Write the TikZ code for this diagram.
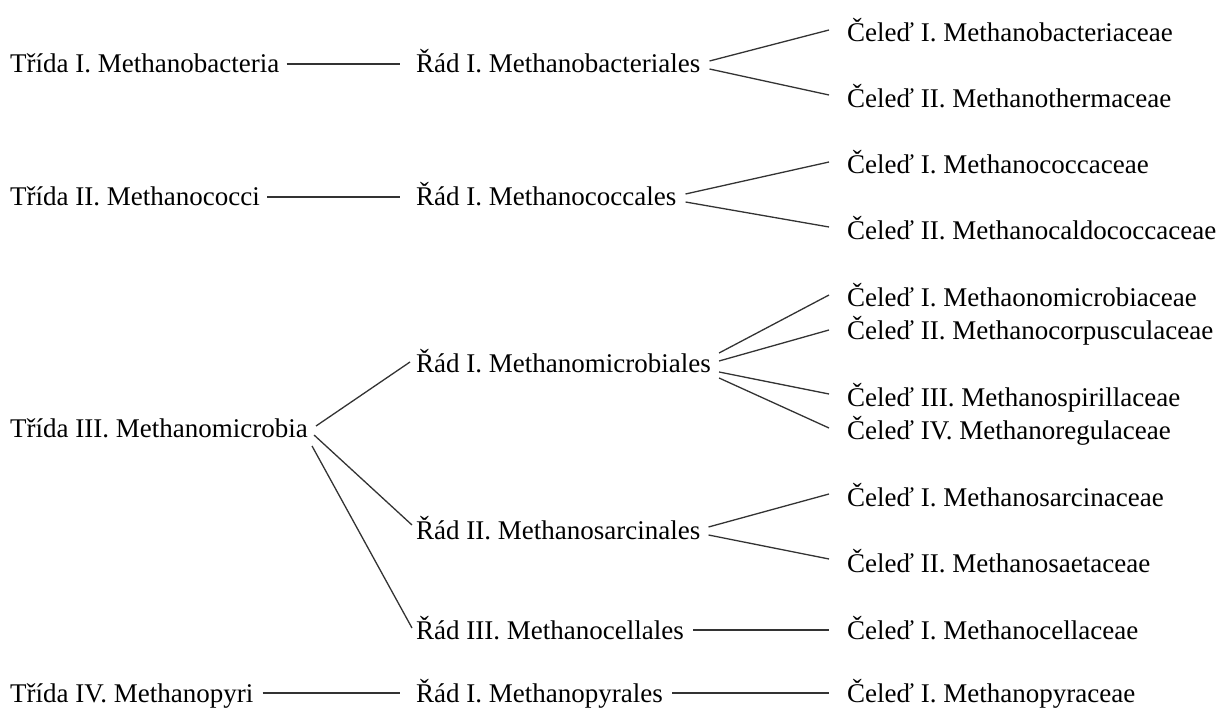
\documentclass[tikz,border=0pt]{standalone}
\usepackage{fontspec}
\setmainfont{Liberation Serif}
\begin{document}
\begin{tikzpicture}[x=1pt,y=-1pt,
  lbl/.style={anchor=west, inner sep=0pt, text height=18pt, text depth=0pt, font=\fontsize{27}{32}\selectfont},
  conn/.style={line width=1.3pt, black!80}]
\useasboundingbox (0,0) rectangle (1216,708);
% classes
\node[lbl] (t1) at (10,64) {Třída I. Methanobacteria};
\node[lbl] (t2) at (10,197) {Třída II. Methanococci};
\node[lbl] (t3) at (10,429) {Třída III. Methanomicrobia};
\node[lbl] (t4) at (10,693) {Třída IV. Methanopyri};
% orders
\node[lbl] (r1) at (416,64) {Řád I. Methanobacteriales};
\node[lbl] (r2) at (416,197) {Řád I. Methanococcales};
\node[lbl] (r3) at (416,364) {Řád I. Methanomicrobiales};
\node[lbl] (r4) at (416,530) {Řád II. Methanosarcinales};
\node[lbl] (r5) at (416,630) {Řád III. Methanocellales};
\node[lbl] (r6) at (416,693) {Řád I. Methanopyrales};
% families
\node[lbl] (c11) at (847,33) {Čeleď I. Methanobacteriaceae};
\node[lbl] (c12) at (847,99) {Čeleď II. Methanothermaceae};
\node[lbl] (c21) at (847,165) {Čeleď I. Methanococcaceae};
\node[lbl] (c22) at (847,231) {Čeleď II. Methanocaldococcaceae};
\node[lbl] (c31) at (847,298) {Čeleď I. Methaonomicrobiaceae};
\node[lbl] (c32) at (847,331) {Čeleď II. Methanocorpusculaceae};
\node[lbl] (c33) at (847,398) {Čeleď III. Methanospirillaceae};
\node[lbl] (c34) at (847,431) {Čeleď IV. Methanoregulaceae};
\node[lbl] (c41) at (847,497) {Čeleď I. Methanosarcinaceae};
\node[lbl] (c42) at (847,563) {Čeleď II. Methanosaetaceae};
\node[lbl] (c51) at (847,630) {Čeleď I. Methanocellaceae};
\node[lbl] (c61) at (847,693) {Čeleď I. Methanopyraceae};
% class -> order
\draw[conn] ([xshift=7pt]t1.east) -- ([xshift=-16pt]r1.west);
\draw[conn] ([xshift=7pt]t2.east) -- ([xshift=-16pt]r2.west);
\draw[conn] ([xshift=8pt,yshift=3pt]t3.east) -- ([xshift=-6pt,yshift=2pt]r3.west);
\draw[conn] ([xshift=6pt,yshift=-6pt]t3.east) -- ([xshift=-4pt,yshift=5pt]r4.west);
\draw[conn] ([xshift=4pt,yshift=-17pt]t3.east) -- ([xshift=-4pt,yshift=2pt]r5.west);
\draw[conn] ([xshift=9pt]t4.east) -- ([xshift=-16pt]r6.west);
% order -> family
\draw[conn] ([xshift=9pt,yshift=3pt]r1.east) -- ([xshift=-18pt,yshift=3pt]c11.west);
\draw[conn] ([xshift=9pt,yshift=-5pt]r1.east) -- ([xshift=-18pt,yshift=4pt]c12.west);
\draw[conn] ([xshift=9pt,yshift=3pt]r2.east) -- ([xshift=-18pt,yshift=3pt]c21.west);
\draw[conn] ([xshift=9pt,yshift=-5pt]r2.east) -- ([xshift=-18pt,yshift=4pt]c22.west);
\draw[conn] ([xshift=8pt,yshift=11pt]r3.east) -- ([xshift=-18pt,yshift=3pt]c31.west);
\draw[conn] ([xshift=8pt,yshift=3pt]r3.east) -- ([xshift=-18pt,yshift=1pt]c32.west);
\draw[conn] ([xshift=8pt,yshift=-8pt]r3.east) -- ([xshift=-18pt,yshift=4pt]c33.west);
\draw[conn] ([xshift=8pt,yshift=-14pt]r3.east) -- ([xshift=-18pt,yshift=3pt]c34.west);
\draw[conn] ([xshift=8pt,yshift=3pt]r4.east) -- ([xshift=-18pt,yshift=3pt]c41.west);
\draw[conn] ([xshift=8pt,yshift=-5pt]r4.east) -- ([xshift=-18pt,yshift=4pt]c42.west);
\draw[conn] ([xshift=9pt]r5.east) -- ([xshift=-18pt]c51.west);
\draw[conn] ([xshift=9pt]r6.east) -- ([xshift=-18pt]c61.west);
\end{tikzpicture}
\end{document}
